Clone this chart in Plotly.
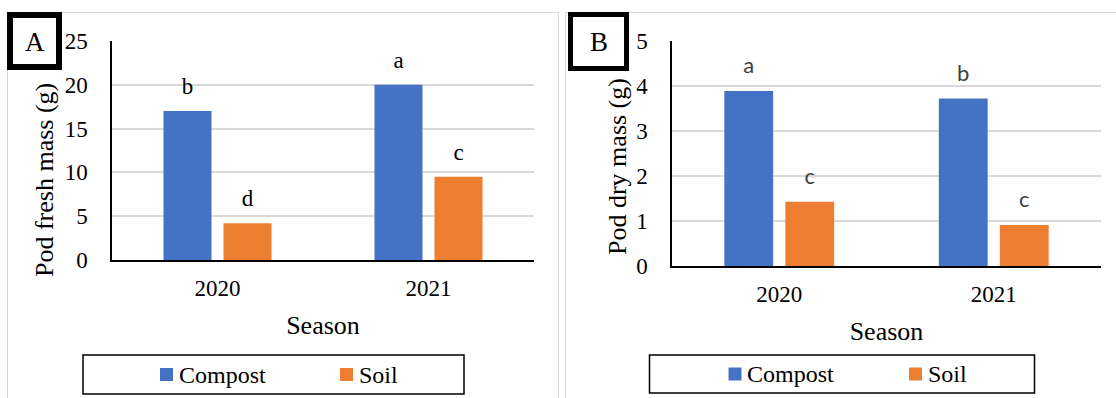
import plotly.graph_objects as go

W, H = 1116, 398

seasons = ["2020", "2021"]
series_names = ["Compost", "Soil"]
colors = ["#4472C4", "#ED7D31"]

fresh_compost = [17.0, 20.0]
fresh_soil = [4.2, 9.5]
fresh_letters_compost = ["b", "a"]
fresh_letters_soil = ["d", "c"]

dry_compost = [3.89, 3.72]
dry_soil = [1.43, 0.91]
dry_letters_compost = ["a", "b"]
dry_letters_soil = ["c", "c"]

fresh_ticks = [0, 5, 10, 15, 20, 25]
dry_ticks = [0, 1, 2, 3, 4, 5]

SERIF = "Liberation Serif, Times New Roman, serif"
SANS = "Lato, Carlito, sans-serif"


def px(x):
    return x / W


def py(y):
    return 1 - y / H


fig = go.Figure()

panels = [
    dict(xa="x", ya="y", data=[fresh_compost, fresh_soil],
         letters=[fresh_letters_compost, fresh_letters_soil], lfont=SERIF, lsize=23, msize=16,
         lcolor="#000000"),
    dict(xa="x2", ya="y2", data=[dry_compost, dry_soil],
         letters=[dry_letters_compost, dry_letters_soil], lfont=SANS, lsize=22, msize=18,
         lcolor="#404040"),
]

for p in panels:
    for i, name in enumerate(series_names):
        fig.add_trace(go.Bar(
            x=seasons, y=p["data"][i], name=name, marker=dict(color=colors[i], line=dict(width=0)),
            xaxis=p["xa"], yaxis=p["ya"], offsetgroup=name, showlegend=False, hoverinfo="skip"))
    for i, name in enumerate(series_names):
        fig.add_trace(go.Scatter(
            x=seasons, y=p["data"][i], mode="markers+text", text=p["letters"][i],
            textposition="top center",
            textfont=dict(family=p["lfont"], size=p["lsize"], color=p["lcolor"]),
            marker=dict(size=p["msize"], color="rgba(0,0,0,0)"),
            xaxis=p["xa"], yaxis=p["ya"], offsetgroup=name, showlegend=False,
            cliponaxis=False, hoverinfo="skip"))

tickfont = dict(family=SERIF, size=23, color="#000000")

fig.update_layout(
    width=W, height=H,
    margin=dict(l=0, r=0, t=0, b=0, pad=0, autoexpand=False),
    paper_bgcolor="white", plot_bgcolor="white",
    barmode="group", bargap=0.431, bargroupgap=0.2,
    scattermode="group", scattergap=0.431,
    showlegend=False,
    font=dict(family=SERIF, color="#000000"),
    xaxis=dict(domain=[px(112), px(534)], anchor="y", type="category", automargin=False,
               showline=True, linecolor="#000000", linewidth=2, showgrid=False,
               ticks="", ticklabelstandoff=6, tickfont=tickfont,
               title=dict(text="Season", font=dict(family=SERIF, size=26), standoff=16)),
    yaxis=dict(domain=[py(260), py(41)], anchor="x", range=[0, 25], tickvals=fresh_ticks,
               automargin=False,
               showline=True, linecolor="#000000", linewidth=1.5,
               showgrid=True, gridcolor="#D9D9D9", gridwidth=1.5, zeroline=False,
               ticks="", ticklabelstandoff=18, tickfont=tickfont),
    xaxis2=dict(domain=[px(672), px(1101)], anchor="y2", type="category", automargin=False,
                showline=True, linecolor="#000000", linewidth=2, showgrid=False,
                ticks="", ticklabelstandoff=6, tickfont=tickfont,
                title=dict(text="Season", font=dict(family=SERIF, size=26), standoff=16)),
    yaxis2=dict(domain=[py(266), py(41)], anchor="x2", range=[0, 5], tickvals=dry_ticks,
                automargin=False,
                showline=True, linecolor="#000000", linewidth=1.5,
                showgrid=True, gridcolor="#D9D9D9", gridwidth=1.5, zeroline=False,
                ticks="", ticklabelstandoff=18, tickfont=tickfont),
)

shapes = []
annotations = []

gray = dict(color="#D9D9D9", width=1)
# panel frames (light gray, they run off the bottom / right of the picture)
for (x0, y0, x1, y1) in [(7.5, 12.5, 7.5, 398), (7.5, 12.5, 558.5, 12.5), (558.5, 12.5, 558.5, 398),
                         (565.5, 12.5, 565.5, 398), (565.5, 12.5, 1116, 12.5)]:
    shapes.append(dict(type="line", xref="paper", yref="paper", x0=px(x0), x1=px(x1),
                       y0=py(y0), y1=py(y1), line=gray, layer="below"))

# y axis titles
for (x, y, t) in [(45, 180, "Pod fresh mass (g)"), (617, 167, "Pod dry mass (g)")]:
    annotations.append(dict(xref="paper", yref="paper", x=px(x), y=py(y), text=t, textangle=-90,
                            showarrow=False, xanchor="center", yanchor="middle",
                            font=dict(family=SERIF, size=26, color="#000000")))

# panel label boxes
for (x0, x1, y0, y1, lw, lab) in [(10, 59, 15, 67, 6, "A"), (570.5, 626.5, 14.5, 68.5, 5, "B")]:
    shapes.append(dict(type="rect", xref="paper", yref="paper", x0=px(x0), x1=px(x1),
                       y0=py(y1), y1=py(y0), line=dict(color="#000000", width=lw),
                       fillcolor="white"))
    annotations.append(dict(xref="paper", yref="paper", x=px((x0 + x1) / 2), y=py((y0 + y1) / 2 + 1),
                            text=lab, showarrow=False, xanchor="center", yanchor="middle",
                            font=dict(family=SERIF, size=27, color="#000000")))

# legend boxes
legends = [
    dict(box=(83, 464, 355, 394), sq=[160, 340], tx=[177, 357]),
    dict(box=(649.5, 1034.5, 355, 393), sq=[728.5, 909], tx=[745, 926]),
]
for lg in legends:
    bx0, bx1, by0, by1 = lg["box"]
    shapes.append(dict(type="rect", xref="paper", yref="paper", x0=px(bx0), x1=px(bx1),
                       y0=py(by1), y1=py(by0), line=dict(color="#000000", width=1.5)))
    cy = (by0 + by1) / 2
    for i, name in enumerate(series_names):
        sx = lg["sq"][i]
        shapes.append(dict(type="rect", xref="paper", yref="paper", x0=px(sx), x1=px(sx + 13),
                           y0=py(cy + 6.5), y1=py(cy - 6.5), line=dict(width=0),
                           fillcolor=colors[i]))
        annotations.append(dict(xref="paper", yref="paper", x=px(lg["tx"][i]), y=py(cy),
                                text=name, showarrow=False, xanchor="left", yanchor="middle",
                                font=dict(family=SERIF, size=24, color="#000000")))

fig.update_layout(shapes=shapes, annotations=annotations)

fig.write_html("out.html", config={"responsive": False, "displayModeBar": False},
               post_script="document.body.style.margin='0';document.body.style.overflow='hidden';")
